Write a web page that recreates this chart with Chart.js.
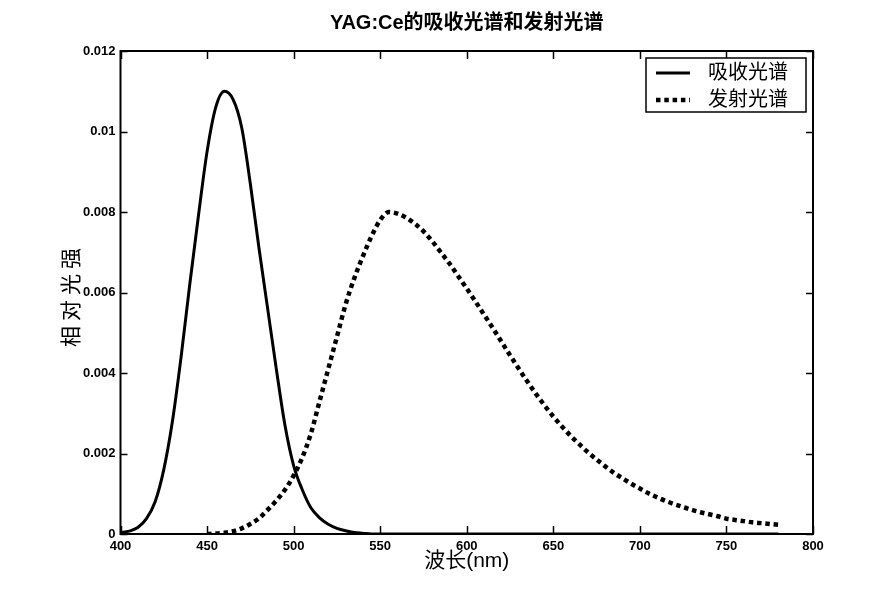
<!DOCTYPE html>
<html>
<head>
<meta charset="utf-8">
<script src="https://cdn.jsdelivr.net/npm/chart.js@4.4.1/dist/chart.umd.min.js"></script>
<style>
  body { margin: 0; background: #fff; }
  canvas { display: block; }
</style>
</head>
<body>
<canvas id="spectrumChart" width="894" height="601"></canvas>
<script>
// 波长 (nm) 与两条光谱
const wavelength = [400, 405, 410, 415, 420, 425, 430, 435, 440, 445, 450, 455, 460, 465, 470, 475, 480, 485, 490, 495,
  500, 505, 510, 515, 520, 525, 530, 535, 540, 545, 550, 555, 560, 565, 570, 575, 580, 585, 590, 595,
  600, 605, 610, 615, 620, 625, 630, 635, 640, 645, 650, 655, 660, 665, 670, 675, 680, 685, 690, 695,
  700, 705, 710, 715, 720, 725, 730, 735, 740, 745, 750, 755, 760, 765, 770, 775, 780];
const absorption = [0.00003, 0.00007, 0.00016, 0.00038, 0.0008, 0.0016, 0.0028, 0.0044, 0.0062, 0.0079, 0.0095, 0.0106, 0.0110, 0.0108, 0.0101, 0.0087, 0.0071, 0.0056, 0.0041, 0.0027,
  0.0017, 0.0011, 0.00065, 0.0004, 0.00024, 0.00014, 0.00008, 0.00004, 0.00002, 0, 0, 0, 0, 0, 0, 0, 0, 0, 0, 0,
  0, 0, 0, 0, 0, 0, 0, 0, 0, 0, 0, 0, 0, 0, 0, 0, 0, 0, 0, 0,
  0, 0, 0, 0, 0, 0, 0, 0, 0, 0, 0, 0, 0, 0, 0, 0, 0];
const emissionWavelength = [450, 455, 460, 465, 470, 475, 480, 485, 490, 495,
  500, 505, 510, 515, 520, 525, 530, 535, 540, 545, 550, 555, 560, 565, 570, 575, 580, 585, 590, 595,
  600, 605, 610, 615, 620, 625, 630, 635, 640, 645, 650, 655, 660, 665, 670, 675, 680, 685, 690, 695,
  700, 705, 710, 715, 720, 725, 730, 735, 740, 745, 750, 755, 760, 765, 770, 775, 780];
const emission = [0, 0.00001, 0.00003, 0.00007, 0.00014, 0.00025, 0.00039, 0.0006, 0.00083, 0.0011,
  0.00145, 0.0019, 0.0025, 0.0033, 0.0041, 0.0049, 0.0057, 0.00635, 0.0069, 0.0074, 0.0078, 0.0080, 0.00796, 0.00786, 0.00771, 0.00752, 0.00728, 0.0070, 0.00672, 0.00641,
  0.0061, 0.00578, 0.00545, 0.00512, 0.00478, 0.00444, 0.00411, 0.00379, 0.00348, 0.00319, 0.00292, 0.00267, 0.00244, 0.00223, 0.00203, 0.00185, 0.00168, 0.00152, 0.00138, 0.00125,
  0.00113, 0.00101, 0.00091, 0.00082, 0.00074, 0.00067, 0.0006, 0.00054, 0.00049, 0.00044, 0.00038, 0.00035, 0.00032, 0.00029, 0.00027, 0.00025, 0.00023];

const seriesNames = ['吸收光谱', '发射光谱'];
const xTicks = [400, 450, 500, 550, 600, 650, 700, 750, 800];
const yTicks = [0, 0.002, 0.004, 0.006, 0.008, 0.01, 0.012];
const yTickLabels = ['0', '0.002', '0.004', '0.006', '0.008', '0.01', '0.012'];
const yAxisTitle = '相对光强';

const FONT = '"Liberation Sans", Arial, "Noto Sans CJK SC", sans-serif';

// 白底
const whiteBg = {
  id: 'whiteBg',
  beforeDraw(chart) {
    const ctx = chart.ctx;
    ctx.save();
    ctx.fillStyle = '#fff';
    ctx.fillRect(0, 0, chart.width, chart.height);
    ctx.restore();
  }
};

// 纵轴标题（字间距稍宽）
const yTitle = {
  id: 'yTitle',
  afterDraw(chart) {
    const { ctx, chartArea: a } = chart;
    ctx.save();
    ctx.translate(72.5, (a.top + a.bottom) / 2 + 5);
    ctx.rotate(-Math.PI / 2);
    ctx.font = '21px ' + FONT;
    ctx.letterSpacing = '5px';
    ctx.fillStyle = '#000';
    ctx.textAlign = 'center';
    ctx.textBaseline = 'middle';
    ctx.fillText(yAxisTitle, 2.5, 0);
    ctx.restore();
  }
};

// 四边框 + 向内的刻度线
const frameTicks = {
  id: 'frameTicks',
  afterDatasetsDraw(chart) {
    const { ctx, chartArea: a, scales: { x, y } } = chart;
    ctx.save();
    ctx.strokeStyle = '#000';
    ctx.lineWidth = 1.5;
    ctx.beginPath();
    xTicks.forEach(v => {
      const px = Math.round(x.getPixelForValue(v)) + 0.5;
      ctx.moveTo(px, a.bottom); ctx.lineTo(px, a.bottom - 8);
      ctx.moveTo(px, a.top); ctx.lineTo(px, a.top + 8);
    });
    yTicks.forEach(v => {
      const py = Math.round(y.getPixelForValue(v)) + 0.5;
      ctx.moveTo(a.left, py); ctx.lineTo(a.left + 7, py);
      ctx.moveTo(a.right, py); ctx.lineTo(a.right - 7, py);
    });
    ctx.stroke();
    ctx.lineWidth = 2;
    ctx.strokeRect(a.left, a.top, a.right - a.left, a.bottom - a.top);
    ctx.restore();
  }
};

// 右上角图例
const boxLegend = {
  id: 'boxLegend',
  afterDraw(chart) {
    const { ctx, chartArea: a } = chart;
    const right = a.right - 7, top = a.top + 7;
    const w = 160, h = 54;
    const left = right - w;
    ctx.save();
    ctx.fillStyle = '#fff';
    ctx.fillRect(left, top, w, h);
    ctx.strokeStyle = '#000';
    ctx.lineWidth = 1.5;
    ctx.strokeRect(left, top, w, h);
    ctx.font = '20px ' + FONT;
    ctx.textBaseline = 'middle';
    ctx.fillStyle = '#000';
    chart.data.datasets.forEach((ds, i) => {
      const cy = top + 15 + i * 27;
      ctx.beginPath();
      ctx.lineWidth = ds.borderWidth;
      ctx.setLineDash(ds.borderDash || []);
      ctx.moveTo(left + 10, cy);
      ctx.lineTo(left + 44, cy);
      ctx.stroke();
      ctx.setLineDash([]);
      ctx.fillText(ds.label, left + 62, cy);
    });
    ctx.restore();
  }
};

const ctx = document.getElementById('spectrumChart').getContext('2d');
new Chart(ctx, {
  type: 'line',
  data: {
    datasets: [{
      label: seriesNames[0],
      data: wavelength.map((w, i) => ({ x: w, y: absorption[i] })),
      borderColor: '#000',
      borderWidth: 3,
      pointRadius: 0,
      cubicInterpolationMode: 'monotone',
      fill: false
    }, {
      label: seriesNames[1],
      data: emissionWavelength.map((w, i) => ({ x: w, y: emission[i] })),
      borderColor: '#000',
      borderWidth: 4.5,
      borderDash: [4.5, 3.8],
      borderCapStyle: 'butt',
      pointRadius: 0,
      cubicInterpolationMode: 'monotone',
      fill: false
    }]
  },
  options: {
    responsive: false,
    animation: false,
    layout: { padding: { left: 0, right: 81, top: 0, bottom: 0 } },
    plugins: {
      legend: { display: false },
      tooltip: { enabled: false },
      title: {
        display: true,
        text: 'YAG:Ce的吸收光谱和发射光谱',
        fullSize: false,
        color: '#000',
        font: { family: FONT, size: 20, weight: 'bold' },
        padding: { top: 11, bottom: 16 }
      }
    },
    scales: {
      x: {
        type: 'linear',
        min: 400,
        max: 800,
        afterFit(scale) { scale.height = 67; },
        afterBuildTicks(scale) { scale.ticks = xTicks.map(v => ({ value: v })); },
        grid: { display: false, drawTicks: false },
        border: { display: false },
        ticks: {
          color: '#000',
          padding: 5,
          maxRotation: 0,
          font: { family: FONT, size: 13, weight: 'bold' },
          callback: v => String(v)
        },
        title: {
          display: true,
          text: '波长(nm)',
          color: '#000',
          font: { family: FONT, size: 21 },
          padding: { top: 0, bottom: 27 }
        }
      },
      y: {
        min: 0,
        max: 0.012,
        afterFit(scale) { scale.width = 120.5; },
        afterBuildTicks(scale) { scale.ticks = yTicks.map(v => ({ value: v })); },
        grid: { display: false, drawTicks: false },
        border: { display: false },
        ticks: {
          color: '#000',
          padding: 5,
          font: { family: FONT, size: 13, weight: 'bold' },
          callback: (v, i) => yTickLabels[i]
        }
      }
    }
  },
  plugins: [whiteBg, frameTicks, yTitle, boxLegend]
});
</script>
</body>
</html>
